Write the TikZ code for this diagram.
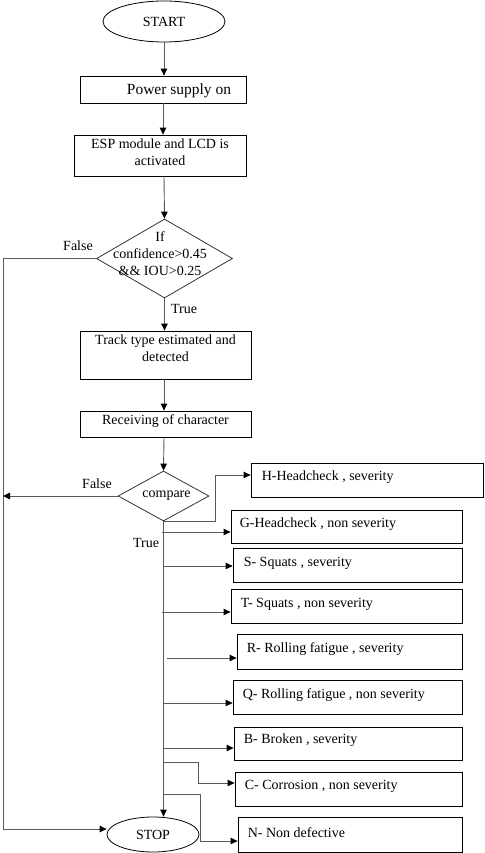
\documentclass[tikz,border=0pt]{standalone}
\usepackage{fontspec}
\setmainfont{Liberation Serif}
\usetikzlibrary{shapes.geometric,arrows.meta,calc}
\begin{document}
\begin{tikzpicture}[x=1pt,y=-1pt,
  txt/.style={font=\fontsize{14}{16.5}\selectfont, inner sep=0pt, text=black},
  box/.style={draw=black, line width=0.8pt, rectangle, inner sep=0pt, fill=white},
  oval/.style={draw=black, line width=0.8pt, ellipse, inner sep=0pt, txt},
  dia/.style={draw=black!80, line width=0.8pt, diamond, inner sep=0pt},
  conn/.style={draw=black!65, line width=0.9pt},
  arr/.style={conn, -{Triangle[length=7pt,width=6.5pt,color=black]}},
  lbl/.style={txt, align=center},
  lft/.style={txt, anchor=west}
]
\useasboundingbox (0,0) rectangle (484,853);
\fill[white] (0,0) rectangle (484,853);

% main column
\node[oval, minimum width=122, minimum height=41] (start) at (164,21.5) {START};
\node[box, minimum width=166, minimum height=27,
  label={[lbl, font=\fontsize{15.5}{18}\selectfont, xshift=16pt, yshift=-1pt]center:Power supply on}] (power) at (163,89.5) {};
\node[box, minimum width=172, minimum height=41,
  label={[lbl, yshift=3.5pt]center:ESP module and LCD is\\activated}] (esp) at (160,155.5) {};
\node[dia, minimum width=136, minimum height=79,
  label={[lbl, xshift=-4.5pt, yshift=4.5pt, font=\fontsize{14}{17}\selectfont]center:If\\confidence>0.45\\\&\& IOU>0.25}] (d1) at (164.5,258.5) {};
\node[box, minimum width=171, minimum height=48,
  label={[lbl, yshift=7pt]center:Track type estimated and\\detected}] (track) at (165.5,355) {};
\node[box, minimum width=171, minimum height=26,
  label={[lbl, yshift=3pt]center:Receiving of character}] (recv) at (165.5,424) {};
\node[dia, minimum width=91, minimum height=50,
  label={[lbl, xshift=3pt]center:compare}] (cmp) at (163.5,496) {};
\node[oval, minimum width=92, minimum height=35] (stop) at (153,834.5) {STOP};

% result boxes
\node[box, minimum width=232, minimum height=34,
  label={[lft, xshift=11pt, yshift=3pt]west:H-Headcheck , severity}] (h) at (367,480) {};
\node[box, minimum width=231, minimum height=33,
  label={[lft, xshift=9pt, yshift=2.5pt]west:G-Headcheck , non severity}] (g) at (346.5,526.5) {};
\node[box, minimum width=229, minimum height=34,
  label={[lft, xshift=11pt, yshift=1.5pt]west:S- Squats , severity}] (s) at (347.5,565) {};
\node[box, minimum width=231, minimum height=34,
  label={[lft, xshift=10pt, yshift=1.5pt]west:T- Squats , non severity}] (t) at (346.5,606) {};
\node[box, minimum width=225, minimum height=35,
  label={[lft, xshift=10pt, yshift=2pt]west:R- Rolling fatigue , severity}] (r) at (349.5,651.5) {};
\node[box, minimum width=229, minimum height=34,
  label={[lft, xshift=10pt, yshift=1.5pt]west:Q- Rolling fatigue , non severity}] (q) at (347.5,697) {};
\node[box, minimum width=228, minimum height=33,
  label={[lft, xshift=10pt, yshift=3pt]west:B- Broken , severity}] (b) at (348,743.5) {};
\node[box, minimum width=227, minimum height=34,
  label={[lft, xshift=10pt, yshift=2.5pt]west:C- Corrosion , non severity}] (c) at (348.5,789) {};
\node[box, minimum width=224, minimum height=35,
  label={[lft, xshift=10pt, yshift=2pt]west:N- Non defective}] (n) at (350,834.5) {};

% helper coordinates
\coordinate (tx) at (164,0);
\coordinate (lx) at (3,0);
\coordinate (hx) at (215,0);
\coordinate (cx) at (198,0);
\coordinate (nx) at (200,0);

% main flow
\draw[arr] (start.south) -- (start.south |- power.north);
\draw[arr] (power.south) -- (power.south |- esp.north);
\draw[arr] (tx |- esp.south) -- (d1.north);
\draw[arr] (d1.south) -- (d1.south |- track.north);
\draw[arr] (tx |- track.south) -- (tx |- recv.north);
\draw[arr] (tx |- recv.south) -- (cmp.north);

% false branches
\draw[arr] (d1.west) -- (lx |- d1.west) -- (lx |- 0,829) -- ([yshift=5.5pt]stop.west);
\draw[arr] (cmp.west) -- (lx |- cmp.west);

% true trunk
\draw[arr] (cmp.south) -- (cmp.south |- stop.north);

% to H
\coordinate (hin) at ([yshift=5pt]h.west);
\draw[arr] (cmp.south) -| (hx |- hin) -- (hin);

% straight branches
\draw[arr] (162,532) -- (g.west |- 0,532);
\draw[arr] (tx |- 0,566) -- (s.west |- 0,566);
\draw[arr] (162,612) -- (t.west |- 0,612);
\draw[arr] (167,658) -- (r.west |- 0,658);
\draw[arr] (163,703) -- (q.west |- 0,703);
\draw[arr] (tx |- 0,748) -- (b.west |- 0,748);

% stepped branches
\draw[arr] (tx |- 0,762) -- (cx |- 0,762) -- (cx |- 0,783) -- (c.west |- 0,783);
\draw[arr] (tx |- 0,794) -- (nx |- 0,794) -- (nx |- 0,841) -- (n.west |- 0,841);

% labels
\node[txt] (f1) at (78,246) {False};
\node[txt] (f2) at (97,484) {False};
\node[txt] (t1) at (184,309) {True};
\node[txt] (t2) at (146,543) {True};
\end{tikzpicture}
\end{document}
